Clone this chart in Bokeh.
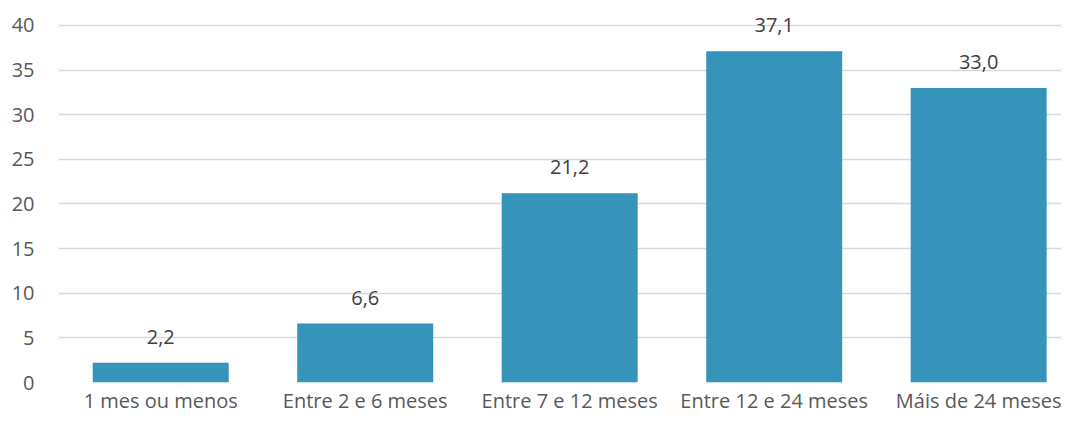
from bokeh.plotting import figure
from bokeh.models import Range1d, FixedTicker, ColumnDataSource, LabelSet
from bokeh.core.properties import value
from bokeh.embed import file_html
from bokeh.resources import INLINE

categories = ["1 mes ou menos", "Entre 2 e 6 meses", "Entre 7 e 12 meses",
              "Entre 12 e 24 meses", "Máis de 24 meses"]
values = [2.2, 6.6, 21.2, 37.1, 33.0]
y_ticks = [0, 5, 10, 15, 20, 25, 30, 35, 40]

FONT = "Open Sans"
FS = "20px"
xs = list(range(len(categories)))
labels = [f"{v:.1f}".replace(".", ",") for v in values]
src = ColumnDataSource(dict(x=xs, top=values, label=labels))

p = figure(width=1061, height=416, output_backend="svg", toolbar_location=None,
           x_range=Range1d(-0.5, 4.405), y_range=Range1d(0, 42.8))
p.min_border_top = 0
p.min_border_right = 0
p.min_border_left = 58
p.min_border_bottom = 34
p.outline_line_color = None
p.background_fill_color = "white"
p.border_fill_color = "white"

p.vbar(x="x", top="top", width=0.665, bottom=0, source=src,
       fill_color="#3694BB", line_color=None)

p.add_layout(LabelSet(x="x", y="top", text="label", source=src,
                      text_align="center", text_baseline="bottom", y_offset=19,
                      text_font=value(FONT), text_font_size=FS, text_color="#404040"))

p.xgrid.visible = False
p.ygrid.ticker = FixedTicker(ticks=y_ticks)
p.ygrid.grid_line_color = "#D9D9D9"
p.ygrid.grid_line_width = 1.6

p.yaxis.ticker = FixedTicker(ticks=y_ticks)
p.xaxis.ticker = FixedTicker(ticks=xs)
p.xaxis.major_label_overrides = {i: c for i, c in enumerate(categories)}
for ax in (p.xaxis[0], p.yaxis[0]):
    ax.axis_line_color = None
    ax.major_tick_line_color = None
    ax.minor_tick_line_color = None
    ax.major_tick_out = 0
    ax.major_tick_in = 0
    ax.major_label_text_font = FONT
    ax.major_label_text_font_size = FS
    ax.major_label_text_color = "#595959"
p.yaxis.major_label_standoff = 24
p.xaxis.major_label_standoff = 4

open("out.html", "w").write(file_html(p, INLINE))
